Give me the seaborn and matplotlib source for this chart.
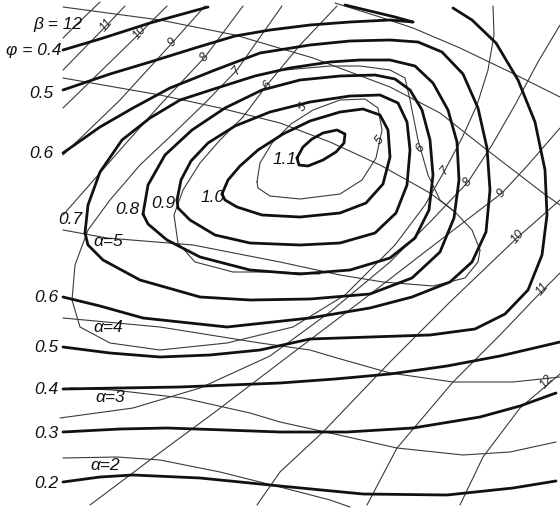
import matplotlib
matplotlib.use("Agg")
import matplotlib.pyplot as plt
import seaborn as sns

# ---- phi contours (thick), points in drawing units (x right, y down) ----
phi_11 = [(297,158),(303,147),(312,139),(323,133),(337,130),(345,134),(344,143),(336,152),(323,160),(308,166),(299,165),(297,158)]
phi_10 = [(222,194),(228,180),(240,166),(258,150),(283,134),(310,121),(340,112),(363,109),(380,115),(388,130),(390,157),(383,184),(366,203),(340,213),(300,217),(262,215),(237,207),(225,200),(222,194)]
phi_09 = [(177,200),(181,180),(191,161),(208,143),(235,126),(270,112),(310,102),(350,96),(380,95),(398,103),(407,122),(410,150),(407,185),(396,213),(375,233),(340,243),(300,245),(250,243),(215,235),(190,220),(178,208),(177,200)]
phi_08 = [(143,214),(148,185),(165,155),(192,130),(225,108),(262,90),(300,80),(340,76),(375,75),(395,79),(410,90),(422,110),(430,140),(433,175),(429,210),(415,238),(390,258),(350,270),(300,274),(250,270),(200,257),(167,240),(148,224),(143,214)]
phi_07 = [(85,233),(88,205),(100,172),(122,140),(150,118),(180,100),(217,88),(255,76),(290,68),(330,62),(360,60),(390,60),(415,66),(433,83),(448,110),(457,142),(459,180),(454,218),(440,252),(412,278),(370,294),(310,299),(250,300),(200,297),(140,280),(103,260),(88,245),(85,233)]
phi_06 = [(63,153),(100,127),(133,108),(170,88),(215,70),(260,53),(310,45),(350,41),(390,40),(418,42),(442,52),(463,74),(478,108),(487,148),(490,190),(486,232),(472,262),(450,282),(412,297),(370,308),(310,318),(227,327),(143,318),(100,306),(63,297)]
phi_05 = [(63,90),(110,74),(150,62),(195,48),(235,36),(270,30),(310,25),(350,22),(390,20),(413,22)]
phi_05_low = [(63,347),(110,353),(160,357),(210,355),(260,350),(310,339),(370,337),(430,335),(475,329),(505,314),(528,290),(542,255),(547,215),(545,170),(535,122),(518,80),(496,43),(472,20),(453,8)]
phi_05_top = [(345,5),(370,11),(395,17),(413,22)]
phi_04 = [(63,50),(100,39),(150,23),(208,7)]
phi_04_low = [(63,389),(120,388),(180,387),(280,383),(335,379),(390,374),(447,366),(500,356),(560,342)]
phi_03 = [(63,432),(120,429),(167,428),(225,430),(280,432),(347,432),(413,428),(480,417),(520,406),(556,393)]
phi_02 = [(63,482),(100,477),(133,475),(200,478),(280,486),(363,494),(447,495),(513,488),(556,481)]

# ---- alpha lines (thin) ----
alpha_8 = [(335,3),(380,17),(413,28),(460,48),(510,72),(560,97)]
alpha_7 = [(63,7),(160,20),(235,35),(313,58),(390,87),(440,113),(487,150),(517,173),(543,193),(560,205)]
alpha_6 = [(63,78),(160,95),(220,108),(280,123),(330,142),(380,165),(430,193),(455,212),(472,230),(480,250)]
alpha_5 = [(63,230),(107,238),(193,245),(280,262),(340,275),(383,282),(433,286),(465,278),(478,262),(480,250)]
alpha_4 = [(63,318),(160,327),(260,343),(310,350),(337,358),(390,373),(453,382),(513,382),(560,377)]
alpha_3 = [(70,388),(113,390),(183,398),(250,413),(280,422),(330,433),(397,448),(463,455),(510,452),(556,442)]
alpha_2 = [(63,458),(117,457),(160,460),(220,472),(280,487),(330,500),(350,507)]

# ---- beta curves (thin) ----
beta_5 = [(257,182),(260,163),(272,143),(291,124),(313,110),(340,100),(365,99),(378,108),(382,130),(376,158),(362,180),(340,194),(300,199),(270,196),(258,188),(257,182)]
beta_6 = [(337,6),(300,45),(267,85),(243,117),(220,140),(200,163),(183,190),(174,215),(178,243),(195,262),(233,272),(280,272),(320,274)]
beta_6_right = [(285,70),(330,66),(360,66),(390,70),(405,78),(410,100),(418,140),(428,175),(440,200),(455,212)]
beta_7 = [(282,6),(258,40),(237,70),(205,103),(175,132),(140,165),(110,200),(88,230),(75,265),(72,300),(80,327),(110,343),(160,350),(227,343),(293,327),(345,295),(395,245),(425,205),(445,170),(462,138),(477,105),(488,70),(494,35),(493,6)]
beta_8 = [(243,6),(205,57),(160,105),(120,150),(85,190),(63,215)]
beta_8_right = [(60,418),(133,408),(200,388),(270,356),(330,312),(390,262),(430,222),(468,182),(492,145),(515,105),(538,62),(560,25)]
beta_9 = [(205,6),(173,42),(120,100),(63,155)]
beta_9_right = [(90,505),(150,460),(215,412),(290,355),(360,302),(430,248),(502,193),(528,165),(560,128)]
beta_10 = [(167,6),(140,33),(100,72),(63,108)]
beta_10_right = [(257,505),(280,472),(323,432),(390,362),(450,302),(518,237),(560,200)]
beta_11 = [(125,6),(107,25),(63,70)]
beta_11_right = [(367,505),(397,448),(453,382),(500,335),(543,290),(560,273)]
beta_12 = [(100,2),(75,26),(63,38)]
beta_12_right = [(460,505),(483,457),(520,408),(553,380),(560,374)]

# ---- labels ----
big_labels = [("β = 12", 58, 24), ("φ = 0.4", 34, 50), ("0.5", 41, 93), ("0.6", 41, 153),
              ("0.7", 70, 220), ("0.8", 127, 210), ("0.9", 163, 204), ("1.0", 213, 197),
              ("1.1", 285, 160), ("α=5", 108, 242), ("0.6", 46, 297), ("α=4", 108, 327),
              ("0.5", 46, 348), ("0.4", 46, 389), ("α=3", 110, 397), ("0.3", 46, 433),
              ("α=2", 105, 465), ("0.2", 46, 483)]
beta_labels = [("11", 107, 25), ("10", 140, 33), ("9", 173, 42), ("8", 205, 57),
               ("7", 237, 70), ("6", 267, 85), ("5", 303, 107), ("5", 380, 140),
               ("6", 420, 148), ("7", 445, 170), ("8", 468, 182), ("9", 502, 193),
               ("10", 518, 237), ("11", 543, 289), ("12", 547, 382)]

sns.set_theme(style="white")
plt.rcParams["font.family"] = ["Liberation Sans", "DejaVu Sans"]

fig = plt.figure(figsize=(5.6, 5.08), dpi=100)
ax = fig.add_axes([0, 0, 1, 1])
ax.set_xlim(0, 560)
ax.set_ylim(508, 0)
ax.axis("off")


def draw(pts, lw, color):
    xs = [p[0] for p in pts]
    ys = [p[1] for p in pts]
    sns.lineplot(x=xs, y=ys, sort=False, estimator=None, ax=ax, color=color,
                 linewidth=lw, legend=False, solid_capstyle="round",
                 solid_joinstyle="round")


thin = [alpha_8, alpha_7, alpha_6, alpha_5, alpha_4, alpha_3, alpha_2,
        beta_5, beta_6, beta_6_right, beta_7, beta_8, beta_8_right, beta_9,
        beta_9_right, beta_10, beta_10_right, beta_11, beta_11_right, beta_12,
        beta_12_right]
for c in thin:
    draw(c, 0.8, "#3a3a3a")

thick = [phi_11, phi_10, phi_09, phi_08, phi_07, phi_06, phi_05, phi_05_low,
         phi_05_top, phi_04, phi_04_low, phi_03, phi_02]
for c in thick:
    draw(c, 2.0, "#111111")

for txt, x, y in big_labels:
    ax.text(x, y, txt, ha="center", va="center", fontsize=12.5, style="italic",
            color="#111111")
for txt, x, y in beta_labels:
    ax.text(x, y, txt, ha="center", va="center", fontsize=9, style="italic",
            rotation=50, color="#222222")

fig.savefig("out.png", dpi=100, facecolor="white")
